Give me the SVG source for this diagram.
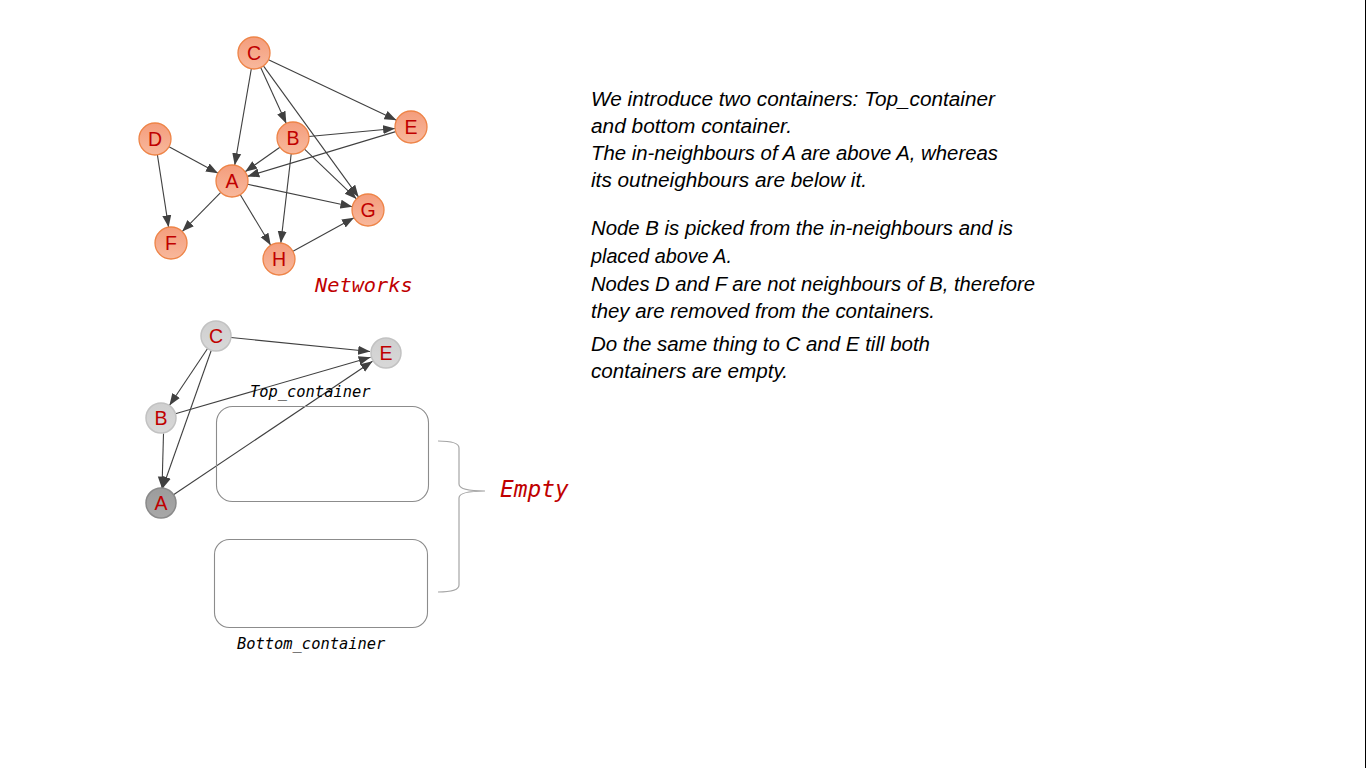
<svg xmlns="http://www.w3.org/2000/svg" width="1366" height="768" viewBox="0 0 1366 768">
  <defs>
    <linearGradient id="salmon" x1="0" y1="0" x2="0" y2="1">
      <stop offset="0" stop-color="#f49d7c"/>
      <stop offset="1" stop-color="#f8b89c"/>
    </linearGradient>
    <linearGradient id="grey" x1="0" y1="0" x2="0" y2="1">
      <stop offset="0" stop-color="#cfcfcf"/>
      <stop offset="1" stop-color="#d8d8d8"/>
    </linearGradient>
    <linearGradient id="dark" x1="0" y1="0" x2="0" y2="1">
      <stop offset="0" stop-color="#9c9c9c"/>
      <stop offset="1" stop-color="#a8a8a8"/>
    </linearGradient>
    <marker id="arrow" markerUnits="userSpaceOnUse" markerWidth="13" markerHeight="11" refX="12" refY="5.5" orient="auto">
      <path d="M0,1 L12,5.5 L0,10 Z" fill="#404040"/>
    </marker>
    <style>
      .edge { stroke: #404040; stroke-width: 1.1; fill: none; marker-end: url(#arrow); }
      .net circle { fill: url(#salmon); stroke: #ee8447; stroke-width: 1.3; }
      .sub circle { fill: url(#grey); stroke: #c2c2c2; stroke-width: 1.5; }
      .sub .focus circle { fill: url(#dark); stroke: #8a8a8a; }
      .lbl { font-family: "Liberation Sans", Arial, sans-serif; font-size: 19.5px; fill: #c00000; text-anchor: middle; }
      .box { fill: none; stroke: #8c8c8c; stroke-width: 1.1; }
      .mono { font-family: "DejaVu Sans Mono", "Liberation Mono", monospace; font-style: italic; }
      .body { font-family: "Liberation Sans", Arial, sans-serif; font-style: italic; font-size: 19.5px; fill: #000; }
    </style>
  </defs>

  <rect x="0" y="0" width="1366" height="768" fill="#ffffff"/>
  <rect x="1365" y="0" width="1" height="768" fill="#000000"/>

  <!-- full network -->
  <g id="network-edges">
    <line class="edge" x1="251.3" y1="68.8" x2="234.7" y2="165.2"/>
    <line class="edge" x1="260.7" y1="67.5" x2="286.3" y2="123.5"/>
    <line class="edge" x1="263.4" y1="65.9" x2="358.6" y2="197.1"/>
    <line class="edge" x1="268.5" y1="59.8" x2="396.5" y2="120.2"/>
    <line class="edge" x1="169.0" y1="146.7" x2="218.0" y2="173.3"/>
    <line class="edge" x1="157.4" y1="154.8" x2="168.6" y2="227.2"/>
    <line class="edge" x1="279.9" y1="147.2" x2="245.1" y2="171.8"/>
    <line class="edge" x1="308.9" y1="136.5" x2="395.1" y2="128.5"/>
    <line class="edge" x1="304.5" y1="149.1" x2="356.5" y2="198.9"/>
    <line class="edge" x1="291.2" y1="153.9" x2="280.8" y2="243.1"/>
    <line class="edge" x1="395.7" y1="131.6" x2="247.3" y2="176.4"/>
    <line class="edge" x1="220.8" y1="192.4" x2="182.2" y2="231.6"/>
    <line class="edge" x1="240.3" y1="194.7" x2="270.7" y2="245.3"/>
    <line class="edge" x1="247.6" y1="184.3" x2="352.4" y2="206.7"/>
    <line class="edge" x1="293.0" y1="251.3" x2="354.0" y2="217.7"/>
  </g>

  <g class="net">
    <g id="net-C"><circle cx="254" cy="53" r="16"/><text class="lbl" x="254" y="60">C</text></g>
    <g id="net-E"><circle cx="411" cy="127" r="16"/><text class="lbl" x="411" y="134">E</text></g>
    <g id="net-D"><circle cx="155" cy="139" r="16"/><text class="lbl" x="155" y="146">D</text></g>
    <g id="net-B"><circle cx="293" cy="138" r="16"/><text class="lbl" x="293" y="145">B</text></g>
    <g id="net-A"><circle cx="232" cy="181" r="16"/><text class="lbl" x="232" y="188">A</text></g>
    <g id="net-G"><circle cx="368" cy="210" r="16"/><text class="lbl" x="368" y="217">G</text></g>
    <g id="net-F"><circle cx="171" cy="243" r="16"/><text class="lbl" x="171" y="250">F</text></g>
    <g id="net-H"><circle cx="279" cy="259" r="16"/><text class="lbl" x="279" y="266">H</text></g>
  </g>

  <text class="mono" x="315" y="292" font-size="20.3" fill="#c00000">Networks</text>

  <!-- reduced network around A -->
  <g id="sub-edges">
    <line class="edge" x1="230.9" y1="337.5" x2="370.1" y2="351.5"/>
    <line class="edge" x1="207.6" y1="348.5" x2="169.4" y2="405.5"/>
    <line class="edge" x1="211.3" y1="350.3" x2="162.5" y2="488.5"/>
    <line class="edge" x1="175.4" y1="413.8" x2="370.6" y2="357.2"/>
    <line class="edge" x1="163.5" y1="433.5" x2="162" y2="488.5"/>
    <line class="edge" x1="173.5" y1="494.7" x2="372.5" y2="361.3"/>
  </g>

  <g class="sub">
    <g id="sub-C"><circle cx="216" cy="336" r="15"/><text class="lbl" x="216" y="343">C</text></g>
    <g id="sub-E"><circle cx="386" cy="353" r="15"/><text class="lbl" x="386" y="360">E</text></g>
    <g id="sub-B"><circle cx="161" cy="418" r="15"/><text class="lbl" x="161" y="425">B</text></g>
    <g id="sub-A" class="focus"><circle cx="161" cy="503" r="15"/><text class="lbl" x="161" y="510">A</text></g>
  </g>

  <!-- containers -->
  <g id="top-container">
    <rect class="box" x="216.5" y="406.5" width="212" height="95" rx="16"/>
    <text class="mono" x="250" y="397" font-size="15.4" fill="#000">Top_container</text>
  </g>
  <g id="bottom-container">
    <rect class="box" x="214.5" y="539.5" width="213" height="88" rx="15"/>
    <text class="mono" x="237" y="649" font-size="15.4" fill="#000">Bottom_container</text>
  </g>

  <g id="brace">
    <path d="M438,441 Q459,441 459,448 L459,484 Q459,491 485,491 Q459,491 459,498 L459,585 Q459,592 438,592" fill="none" stroke="#a6a6a6" stroke-width="1.2"/>
    <text class="mono" x="500" y="497" font-size="22.8" fill="#c00000">Empty</text>
  </g>

  <!-- explanation -->
  <g id="notes" class="body">
    <text x="591" y="106" textLength="404" lengthAdjust="spacingAndGlyphs">We introduce two containers: Top_container</text>
    <text x="591" y="133" textLength="201" lengthAdjust="spacingAndGlyphs">and bottom container.</text>
    <text x="591" y="160" textLength="407" lengthAdjust="spacingAndGlyphs">The in-neighbours of A are above A, whereas</text>
    <text x="591" y="187" textLength="276" lengthAdjust="spacingAndGlyphs">its outneighbours are below it.</text>
    <text x="591" y="235" textLength="422" lengthAdjust="spacingAndGlyphs">Node B is picked from the in-neighbours and is</text>
    <text x="591" y="263" textLength="141" lengthAdjust="spacingAndGlyphs">placed above A.</text>
    <text x="591" y="291" textLength="444" lengthAdjust="spacingAndGlyphs">Nodes D and F are not neighbours of B, therefore</text>
    <text x="591" y="318" textLength="344" lengthAdjust="spacingAndGlyphs">they are removed from the containers.</text>
    <text x="591" y="351" textLength="339" lengthAdjust="spacingAndGlyphs">Do the same thing to C and E till both</text>
    <text x="591" y="378" textLength="197" lengthAdjust="spacingAndGlyphs">containers are empty.</text>
  </g>
</svg>
